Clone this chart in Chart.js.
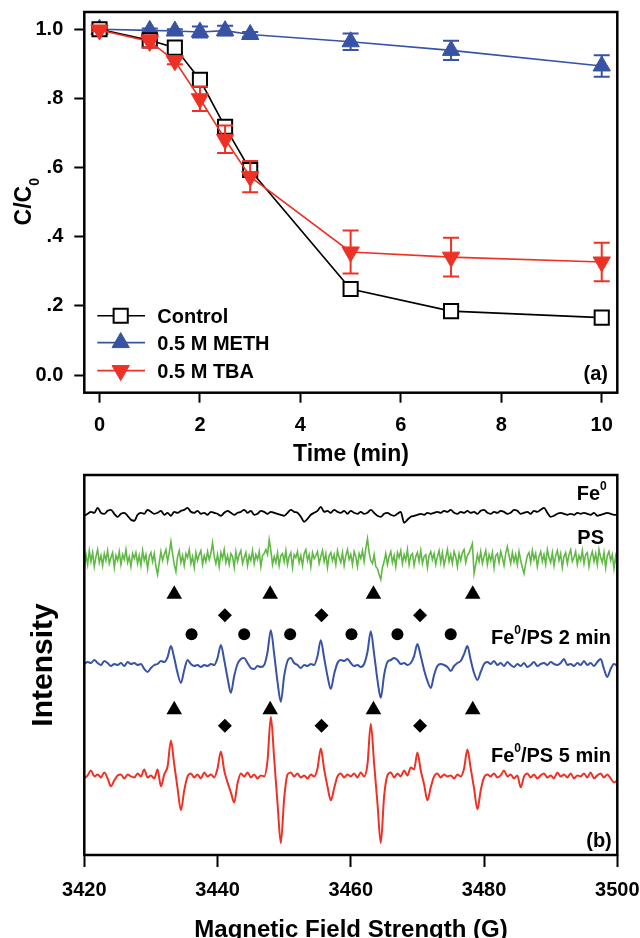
<!DOCTYPE html>
<html>
<head>
<meta charset="utf-8">
<script src="https://cdn.jsdelivr.net/npm/chart.js@4.4.1/dist/chart.umd.min.js"></script>
<style>
  body { margin: 0; background: #fff; }
  #wrap { position: relative; width: 640px; height: 938px; overflow: hidden; }
  canvas { position: absolute; left: 0; }
  #rateChart { top: 0; }
  #eprChart { top: 466px; }
</style>
</head>
<body>
<div id="wrap">
  <canvas id="rateChart" width="640" height="466"></canvas>
  <canvas id="eprChart" width="640" height="472"></canvas>
</div>
<script>
const FONT = '"Liberation Sans", Arial, Helvetica, sans-serif';
Chart.defaults.font.family = FONT;
Chart.defaults.color = '#000';

const BLACK = '#000000';
const BLUE = '#3852a4';
const RED = '#ee3124';
const GREEN = '#62b846';


/* PANEL (a) DATA */
const timeMin = [0, 1, 1.5, 2, 2.5, 3, 5, 7, 10];
const controlC = [1.0, 0.968, 0.947, 0.854, 0.718, 0.593, 0.249, 0.185, 0.166];
const methC = [1.0, 0.997, 0.995, 0.992, 0.996, 0.985, 0.964, 0.939, 0.894];
const methErr = [0.004, 0.005, 0.005, 0.016, 0.014, 0.007, 0.024, 0.028, 0.031];
const tbaC = [0.998, 0.965, 0.909, 0.799, 0.682, 0.574, 0.356, 0.341, 0.327];
const tbaErr = [0.004, 0.018, 0.01, 0.035, 0.04, 0.045, 0.062, 0.056, 0.056];
const seriesNames = ['Control', '0.5 M METH', '0.5 M TBA'];
const ratioTickLabels = ['0.0', '.2', '.4', '.6', '.8', '1.0'];


/* PANEL (b) DATA : EPR spectra, sweep 3420-3500 G */
const fieldStart = 3420;
const fieldStep = 0.5;      // Fe0, Fe0/PS traces
const psFieldStep = 0.25;   // PS trace

const fe0Trace = [
  -1, 1, 3, 2, 7, 2, 1, 4, 5, 1,
  -2, 1, 2, -1, -5, -6, 0, 2, 1, 5,
  3, 1, 2, 4, 0, 2, -1, 3, 2, 4,
  5, 7, 3, 2, 4, 1, 2, 0, 3, 2,
  1, -1, 2, 4, 2, 0, 2, 3, 5, 2,
  4, 0, 1, 4, 3, 1, 3, 2, 1, 0,
  -1, 2, 5, 3, 2, -2, -7, -4, 0, 2,
  4, 8, 3, 4, 2, 5, 3, 2, 4, 1,
  4, 2, 1, 3, 1, 2, 5, 2, -1, -2,
  1, 2, 0, -1, 1, 3, -8, -5, -2, -1,
  0, 1, 0, 2, 1, 2, 3, 2, 4, 3,
  5, 2, 1, 3, 2, 4, 2, 3, 1, 4,
  5, 2, 1, 3, 2, 4, 3, 1, 2, 5,
  4, 1, 2, 3, 1, 4, 3, 5, 7, 2,
  -2, -1, 1, 2, 1, 0, 1, 0, 2, 1,
  2, 1, 0, 2, -1, 0, 1, 2, 1, 0,
  0
];

const psTrace = [
  -12, 4, -6, 8, -3, 6, -8, 2, 9, -4, 3, -7, 5, -2, 8, -5, 1, 6, -9, 3,
  -2, 7, -6, 4, -1, 9, -4, 2, -8, 5, 0, 6, -5, 3, -7, 8, -2, 4, -10, 2,
  6, -3, 5, -8, -16, -4, 7, -2, 4, 9, -3, 6, 17, 5, -6, -13, 2, 8, -4, 3,
  -7, 5, 1, 9, -5, 2, -9, 6, -2, 4, 8, -6, 3, -3, 7, -1, 5, 16, 2, -5,
  4, -8, 6, 0, 9, -4, 3, -6, 5, 2, -9, 7, -3, 4, 8, -5, 1, 6, -7, 3,
  -2, 8, -5, 4, -1, 7, -8, 3, 5, 9, 4, 19, 8, -6, 2, -4, 6, -7, 3, 5,
  -3, 8, -6, 2, 6, -9, 4, 1, 7, -4, 3, -7, 5, 9, -2, 4, -8, 6, 0, 3,
  7, -5, 2, 8, -3, 5, -9, 3, 6, -2, 4, -6, 8, 1, -4, 6, -7, 3, 9, -1,
  4, -6, 7, 2, -8, 5, 0, 8, -3, 10, 20, 6, -2, -5, 4, -8, -10, -16, -21, -9,
  -3, 5, -6, 2, 7, -4, 3, -8, 6, 1, 8, -5, 4, -2, 9, -6, 3, 5, -7, 2,
  6, -3, 8, -5, 2, 4, -9, 3, 7, -1, 5, -6, 2, 8, -4, 6, -7, 1, 9, -3,
  4, -5, 7, 2, -8, 5, -2, 6, 9, -4, 3, 6, 10, 15, -15, -6, 4, -3, 7, -5,
  2, 8, -6, 4, -2, 6, -9, 3, 5, -4, 7, 1, -7, 5, 12, 3, -5, 6, -3, 4,
  -6, 7, -2, -9, -15, -5, 3, 6, -4, 8, -1, 5, -8, 2, 7, -3, 4, -6, 9, 1,
  -4, 6, -7, 3, 8, -2, 5, -9, 2, 6, -5, 4, 9, -3, 1, 7, -6, 3, -2, 8,
  -5, 4, 6, -8, 2, 7, -3, 5, -6, 9, 1, -4, 6, -9, 3, 7, -2, 4, -10, 2,
  -8
];

const fePs2Trace = [
  2, 4, 3, 6, 3, 1, 5, 3, 0, 2,
  1, 3, 0, 4, 2, 3, 1, 2, -3, -6,
  -2, 1, 2, 5, 4, 9, 20, 8, -7, -17,
  -4, 6, 2, 0, 1, -1, 1, 0, 2, 1,
  8, 21, 6, -12, -27, -10, 2, 7, 8, 3,
  -2, -3, 0, -1, 1, 14, 36, 12, -16, -36,
  -10, 5, 8, 3, 1, -2, 1, 0, 2, 1,
  10, 26, 8, -10, -23, -8, 3, 6, 5, 7,
  3, 0, 1, -1, 2, 14, 35, 12, -14, -32,
  -9, 4, 6, 8, 6, 2, 3, 1, 3, 10,
  22, 10, -4, -15, -22, -9, 0, 2, 1, -1,
  -5, 0, 3, 5, 12, 20, 6, -7, -14, -6,
  2, 4, 2, 5, 1, 3, 0, 4, 1, -1,
  2, 0, 3, -1, 1, 4, 0, 2, 3, 1,
  4, 2, 1, 3, 7, 1, 2, 0, 3, 1,
  5, 1, 3, 0, 4, 7, -3, -11, -3, 2,
  0
];

const fePs5Trace = [
  0, 3, 8, 2, 4, 1, 6, 0, -8, -2,
  3, 4, 0, 4, 2, 1, 5, 2, 9, 1,
  3, 0, 9, -8, 4, 12, 38, 14, -10, -32,
  -12, 2, 5, 1, 4, 0, 6, 2, 4, 1,
  10, 27, 8, -4, -14, -24, -5, 5, 2, 6,
  1, 4, 0, 3, 2, 18, 62, 20, -25, -65,
  -20, 4, 6, 2, 5, 1, 3, 0, 4, 2,
  10, 30, 9, -8, -22, -10, 2, 5, 1, 4,
  2, 5, 1, 6, 2, 14, 55, 15, -25, -65,
  -18, 3, 6, 1, 5, 2, 8, 3, 11, 9,
  26, 8, -6, -22, -9, 2, 5, 1, 4, 2,
  3, 0, 4, 2, 10, 29, 10, -10, -31, -12,
  1, 4, 2, 5, 1, 3, 8, 2, 4, 0,
  3, -9, 2, 5, 1, 4, 0, 3, 5, 1,
  3, 0, 6, 2, 4, 1, 5, 0, 3, 2,
  5, 1, 6, 0, 3, 5, 1, 4, 0, -4,
  -2
];

// peak marks (G)
const trianglePeaksG = [3433.5, 3447.9, 3463.4, 3478.3];
const diamondPeaksG = [3441.1, 3455.6, 3470.4];
const circlePeaksG = [3436.1, 3444.0, 3450.9, 3460.1, 3467.0, 3475.0];
const traceNames = ['Fe', 'PS', 'Fe', 'Fe'];


/* HELPERS */
function font(size) {
  return 'bold ' + size + 'px ' + FONT;
}

// text parts: [text, 'sup' | 'sub' | null], y = baseline
function drawRich(ctx, parts, x, y, size, align) {
  ctx.textAlign = 'left';
  ctx.textBaseline = 'alphabetic';
  const sizes = parts.map(p => p[1] ? Math.round(size * 0.62) : size);
  const widths = parts.map((p, i) => {
    ctx.font = font(sizes[i]);
    return ctx.measureText(p[0]).width;
  });
  const total = widths.reduce((a, b) => a + b, 0);
  let cx = align === 'right' ? x - total : align === 'center' ? x - total / 2 : x;
  parts.forEach((p, i) => {
    ctx.font = font(sizes[i]);
    let dy = 0;
    if (p[1] === 'sup') dy = -size * 0.5;
    if (p[1] === 'sub') dy = size * 0.34;
    ctx.fillText(p[0], cx, y + dy);
    cx += widths[i];
  });
}

function mark(ctx, style, x, y, r) {
  ctx.beginPath();
  if (style === 'rect') {
    const s = r * Math.SQRT1_2;
    ctx.rect(x - s, y - s, 2 * s, 2 * s);
  } else {
    const k = style === 'up' ? 1 : -1;
    ctx.moveTo(x, y - k * r);
    ctx.lineTo(x + 0.866 * r, y + k * 0.5 * r);
    ctx.lineTo(x - 0.866 * r, y + k * 0.5 * r);
    ctx.closePath();
  }
}

// fixed axis sizes, no label overhang padding
const fixX = h => s => { s.height = h; s.paddingLeft = 0; s.paddingRight = 0; };
const fixY = w => s => { s.width = w; s.paddingTop = 0; s.paddingBottom = 0; };

const boxPlugin = {
  id: 'box',
  afterDraw(chart) {
    const { ctx, chartArea: a } = chart;
    ctx.save();
    ctx.strokeStyle = '#000';
    ctx.lineWidth = 2.5;
    ctx.strokeRect(a.left, a.top, a.right - a.left, a.bottom - a.top);
    ctx.restore();
  }
};

const errorBars = {
  id: 'errorBars',
  afterDatasetDraw(chart, args) {
    const ds = chart.data.datasets[args.index];
    if (!ds.errors) return;
    const { ctx, scales: { x, y } } = chart;
    ctx.save();
    ctx.strokeStyle = ds.borderColor;
    ctx.lineWidth = 2;
    ds.data.forEach((p, i) => {
      const e = ds.errors[i];
      const px = x.getPixelForValue(p.x);
      const top = y.getPixelForValue(p.y + e);
      const bot = y.getPixelForValue(p.y - e);
      ctx.beginPath();
      ctx.moveTo(px, top); ctx.lineTo(px, bot);
      ctx.moveTo(px - 8, top); ctx.lineTo(px + 8, top);
      ctx.moveTo(px - 8, bot); ctx.lineTo(px + 8, bot);
      ctx.stroke();
    });
    ctx.restore();
  }
};


/* PANEL (a) */
function createRateChart() {

  const toPoints = ys => timeMin.map((t, i) => ({ x: t, y: ys[i] }));

  const rateText = {
    id: 'rateText',
    afterDraw(chart) {
      const ctx = chart.ctx;
      ctx.save();
      ctx.fillStyle = '#000';

      // y title C/C0
      ctx.save();
      ctx.translate(30.7, 201.7);
      ctx.rotate(-Math.PI / 2);
      drawRich(ctx, [['C/C', null], ['0', 'sub']], 0, 0, 23, 'center');
      ctx.restore();

      drawRich(ctx, [['Time (min)', null]], 351, 461.3, 23, 'center');
      drawRich(ctx, [['(a)', null]], 595.7, 380.2, 20, 'center');

      // legend
      const rows = [
        { y: 315.8, color: BLACK, style: 'rect', fill: '#fff' },
        { y: 342.6, color: BLUE, style: 'up', fill: BLUE },
        { y: 370.6, color: RED, style: 'down', fill: RED }
      ];
      rows.forEach((r, i) => {
        ctx.strokeStyle = r.color;
        ctx.lineWidth = 1.6;
        ctx.beginPath();
        ctx.moveTo(97.3, r.y); ctx.lineTo(145, r.y);
        ctx.stroke();
        mark(ctx, r.style, 120.7, r.y, 10);
        ctx.fillStyle = r.fill;
        ctx.fill();
        ctx.lineWidth = r.style === 'rect' ? 2 : 1;
        ctx.stroke();
        ctx.fillStyle = '#000';
        drawRich(ctx, [[seriesNames[i], null]], 157.3, r.y + 7.2, 20, 'left');
      });

      ctx.restore();
    }
  };

  new Chart(document.getElementById('rateChart'), {

    type: 'scatter',

    data: {
      datasets: [
        {
          label: seriesNames[2], data: toPoints(tbaC), errors: tbaErr,
          showLine: true, borderColor: RED, borderWidth: 1.6,
          pointStyle: 'triangle', pointRotation: 180, pointRadius: 10,
          pointBackgroundColor: RED, pointBorderColor: RED, pointBorderWidth: 1,
          order: 0
        },
        {
          label: seriesNames[0], data: toPoints(controlC),
          showLine: true, borderColor: BLACK, borderWidth: 1.6,
          pointStyle: 'rect', pointRadius: 10,
          pointBackgroundColor: '#fff', pointBorderColor: BLACK, pointBorderWidth: 2,
          order: 1
        },
        {
          label: seriesNames[1], data: toPoints(methC), errors: methErr,
          showLine: true, borderColor: BLUE, borderWidth: 1.6,
          pointStyle: 'triangle', pointRadius: 10,
          pointBackgroundColor: BLUE, pointBorderColor: BLUE, pointBorderWidth: 1,
          order: 2
        }
      ]
    },

    options: {
      responsive: false,
      animation: false,
      layout: { padding: { top: 11, right: 22.7, left: 0, bottom: 0 } },
      plugins: { legend: { display: false }, tooltip: { enabled: false } },
      scales: {
        x: {
          type: 'linear', min: -0.303, max: 10.31,
          afterFit: fixX(73.3),
          border: { display: false },
          grid: { drawOnChartArea: false, drawTicks: true, tickLength: 10, tickWidth: 2, tickColor: '#000' },
          ticks: { stepSize: 2, includeBounds: false, padding: 11, color: '#000', font: { size: 20, weight: 'bold' } }
        },
        y: {
          type: 'linear', min: -0.051, max: 1.05,
          afterFit: fixY(84.3),
          border: { display: false },
          grid: { drawOnChartArea: false, drawTicks: true, tickLength: 10, tickWidth: 2, tickColor: '#000' },
          ticks: {
            stepSize: 0.2, includeBounds: false, padding: 11, color: '#000',
            font: { size: 20, weight: 'bold' },
            callback: (v, i) => ratioTickLabels[i]
          }
        }
      }
    },

    plugins: [errorBars, boxPlugin, rateText]
  });
}


/* PANEL (b) */
function createEprChart() {

  // offsets of each stacked spectrum (layout only)
  const trace = (vals, step, base) => vals.map((v, i) => ({ x: fieldStart + i * step, y: base + v }));
  const marks = (gs, level) => gs.map(g => ({ x: g, y: level }));

  const eprText = {
    id: 'eprText',
    afterDraw(chart) {
      const ctx = chart.ctx;
      ctx.save();
      ctx.fillStyle = '#000';

      drawRich(ctx, [[traceNames[0], null], ['0', 'sup']], 606.7, 34.2, 20, 'right');
      drawRich(ctx, [[traceNames[1], null]], 604, 77.9, 20, 'right');
      drawRich(ctx, [[traceNames[2], null], ['0', 'sup'], ['/PS 2 min', null]], 611, 177.9, 20, 'right');
      drawRich(ctx, [[traceNames[3], null], ['0', 'sup'], ['/PS 5 min', null]], 611, 296.2, 20, 'right');
      drawRich(ctx, [['(b)', null]], 599, 381, 20, 'center');

      ctx.save();
      ctx.translate(52, 199);
      ctx.rotate(-Math.PI / 2);
      drawRich(ctx, [['Intensity', null]], 0, 0, 30, 'center');
      ctx.restore();

      drawRich(ctx, [['Magnetic Field Strength (G)', null]], 351, 471, 24, 'center');

      ctx.restore();
    }
  };

  const line = (data, color, width, smooth) => ({
    data, showLine: true, borderColor: color, borderWidth: width,
    pointRadius: 0, cubicInterpolationMode: smooth ? 'monotone' : 'default', tension: 0
  });

  const sym = (data, style, r) => ({
    data, showLine: false, pointStyle: style, pointRadius: r,
    pointBackgroundColor: '#000', pointBorderColor: '#000', pointBorderWidth: 0
  });

  new Chart(document.getElementById('eprChart'), {

    type: 'scatter',

    data: {
      datasets: [
        line(trace(fe0Trace, fieldStep, 342), BLACK, 1.8, true),
        line(trace(psTrace, psFieldStep, 298), GREEN, 1.6, false),
        line(trace(fePs2Trace, fieldStep, 190), BLUE, 2, true),
        line(trace(fePs5Trace, fieldStep, 77), RED, 2, true),
        sym(marks(trianglePeaksG, 262), 'triangle', 9),
        sym(marks(diamondPeaksG, 241), 'rectRot', 7),
        sym(marks(circlePeaksG, 222), 'circle', 6),
        sym(marks(trianglePeaksG, 146), 'triangle', 9),
        sym(marks(diamondPeaksG, 130), 'rectRot', 7)
      ]
    },

    options: {
      responsive: false,
      animation: false,
      layout: { padding: { top: 7.3, right: 22.7, left: 0, bottom: 0 } },
      plugins: { legend: { display: false }, tooltip: { enabled: false } },
      scales: {
        x: {
          type: 'linear', min: 3420, max: 3500,
          afterFit: fixX(83),
          border: { display: false },
          grid: { drawOnChartArea: false, drawTicks: true, tickLength: 12, tickWidth: 2, tickColor: '#000' },
          ticks: {
            stepSize: 20, padding: 11, color: '#000', font: { size: 20, weight: 'bold' },
            callback: v => String(v)
          }
        },
        y: {
          type: 'linear', min: 0, max: 382,
          afterFit: fixY(84.3),
          border: { display: false },
          grid: { display: false },
          ticks: { display: false }
        }
      }
    },

    plugins: [boxPlugin, eprText]
  });
}


createRateChart();
createEprChart();
</script>
</body>
</html>
